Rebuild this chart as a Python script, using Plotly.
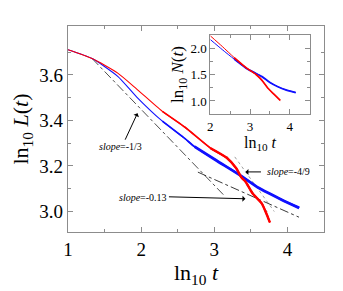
import plotly.graph_objects as go

# main panel data (ln10 t, ln10 L)
red_t = [1.0, 1.33, 1.68, 1.94, 2.29, 2.6, 2.95, 3.17, 3.30, 3.37, 3.43, 3.52, 3.65, 3.72, 3.76]
red_L = [3.711, 3.672, 3.608, 3.538, 3.44, 3.37, 3.278, 3.236, 3.19, 3.15, 3.13, 3.081, 3.035, 2.985, 2.952]
blue_t = [1.0, 1.33, 1.68, 1.94, 2.29, 2.6, 2.73, 3.04, 3.35, 3.61, 3.92, 4.16]
blue_L = [3.711, 3.672, 3.594, 3.503, 3.397, 3.32, 3.285, 3.222, 3.16, 3.103, 3.052, 3.016]

# guide lines
g13_t = [1.33, 3.13]
g13_L = [3.672, 3.072]
g013_t = [2.776, 4.158]
g013_L = [3.173, 2.975]
g49a_t = [3.171, 3.742]
g49a_L = [3.243, 2.990]
g49b_t = [3.28, 3.82]
g49b_L = [3.24, 3.0]

# inset data (ln10 t, ln10 N)
in_red_t = [2.0, 2.3, 2.6, 2.9, 3.15, 3.3, 3.45, 3.6, 3.76]
in_red_N = [2.23, 2.03, 1.82, 1.63, 1.50, 1.39, 1.24, 1.13, 1.01]
in_blue_t = [2.0, 2.3, 2.6, 2.9, 3.1, 3.3, 3.5, 3.7, 3.9, 4.15]
in_blue_N = [2.16, 1.97, 1.79, 1.62, 1.54, 1.46, 1.35, 1.27, 1.21, 1.16]

RED = "#ff0000"
BLUE = "#1010ff"
FONT = "Liberation Serif"
FRAME = "#8c8c8c"
SPL = dict(shape="spline", smoothing=0.6)

fig = go.Figure()
fig.add_trace(go.Scatter(x=g13_t, y=g13_L, mode="lines",
                         line=dict(color="#222", width=0.8, dash="dashdot")))
fig.add_trace(go.Scatter(x=g013_t, y=g013_L, mode="lines",
                         line=dict(color="#222", width=0.9, dash="dashdot")))
fig.add_trace(go.Scatter(x=g49a_t, y=g49a_L, mode="lines",
                         line=dict(color="#777", width=0.7, dash="dot")))
fig.add_trace(go.Scatter(x=g49b_t, y=g49b_L, mode="lines",
                         line=dict(color="#777", width=0.7, dash="dot")))


def add_tapered(t, L, color, starts, widths, **kw):
    """Draw the same series several times, later parts thicker (noise band look)."""
    for s, w in zip(starts, widths):
        k = t.index(s)
        fig.add_trace(go.Scatter(x=t[k:], y=L[k:], mode="lines",
                                 line=dict(color=color, width=w, **SPL), **kw))


add_tapered(blue_t, blue_L, BLUE, [1.0, 2.29, 2.73], [1.1, 1.8, 2.8])
add_tapered(red_t, red_L, RED, [1.0, 2.29, 2.95], [1.1, 1.7, 2.4])
add_tapered(in_blue_t, in_blue_N, BLUE, [2.0, 2.6], [1.0, 1.8], xaxis="x2", yaxis="y2")
add_tapered(in_red_t, in_red_N, RED, [2.0, 2.6], [1.0, 1.7], xaxis="x2", yaxis="y2")

axis_common = dict(showgrid=False, zeroline=False, showline=True, linecolor=FRAME,
                   linewidth=1.2, mirror="ticks", ticks="inside", tickcolor=FRAME,
                   ticklen=5, tickwidth=1)

# page body has an 8px margin, so the figure is sized/offset to compensate
fig.update_layout(
    width=335, height=283,
    margin=dict(l=50, r=19, t=18, b=59),
    paper_bgcolor="white", plot_bgcolor="white",
    showlegend=False,
    font=dict(family=FONT, color="black"),
    xaxis=dict(range=[1, 4.5], tickvals=[1, 2, 3, 4], ticktext=["1", "2", "3", "4"],
               minor=dict(tickvals=[1.5, 2.5, 3.5], ticks="inside", ticklen=3, tickcolor=FRAME),
               tickfont=dict(size=19, family=FONT),
               title=dict(text="ln<sub>10</sub> <i>t</i>", font=dict(size=22, family=FONT), standoff=2),
               **axis_common),
    yaxis=dict(range=[2.91, 3.815], tickvals=[3.0, 3.2, 3.4, 3.6], ticktext=["3.0", "3.2", "3.4", "3.6"],
               minor=dict(tickvals=[2.9, 3.1, 3.3, 3.5, 3.7], ticks="inside", ticklen=3, tickcolor=FRAME),
               tickfont=dict(size=19, family=FONT),
               title=dict(text="ln<sub>10</sub> <i>L</i>(<i>t</i>)", font=dict(size=22, family=FONT), standoff=4),
               **axis_common),
    xaxis2=dict(domain=[0.556, 0.944], anchor="y2", range=[2, 4.5], tickvals=[2, 3, 4],
                minor=dict(tickvals=[2.5, 3.5], ticks="inside", ticklen=3, tickcolor=FRAME),
                tickfont=dict(size=13, family=FONT),
                title=dict(text="ln<sub>10</sub> <i>t</i>", font=dict(size=16, family=FONT), standoff=0),
                **axis_common),
    yaxis2=dict(domain=[0.573, 0.956], anchor="x2", range=[0.755, 2.245], tickvals=[1.0, 1.5, 2.0],
                ticktext=["1.0", "1.5", "2.0"],
                minor=dict(tickvals=[1.25, 1.75], ticks="inside", ticklen=3, tickcolor=FRAME),
                tickfont=dict(size=13, family=FONT),
                title=dict(text="ln<sub>10</sub> <i>N</i>(<i>t</i>)", font=dict(size=17, family=FONT), standoff=2),
                **axis_common),
)

# arrows
arrow = dict(showarrow=True, arrowhead=1, arrowsize=1, arrowwidth=1, arrowcolor="black", text="")
fig.add_annotation(x=1.95, y=3.432, ax=-13, ay=28, **arrow)
fig.add_annotation(x=3.426, y=3.174, ax=17, ay=0, **arrow)
fig.add_annotation(x=3.426, y=3.056, ax=-78, ay=-2, **arrow)

lab = dict(showarrow=False, font=dict(size=10, family=FONT, color="black"))
fig.add_annotation(x=1.72, y=3.284, text="<i>slope</i>=-1/3", xanchor="center", **lab)
fig.add_annotation(x=3.69, y=3.174, text="<i>slope</i>=-4/9", xanchor="left", **lab)
fig.add_annotation(x=2.38, y=3.06, text="<i>slope</i>=-0.13", xanchor="right", **lab)

fig.write_html("out.html")
